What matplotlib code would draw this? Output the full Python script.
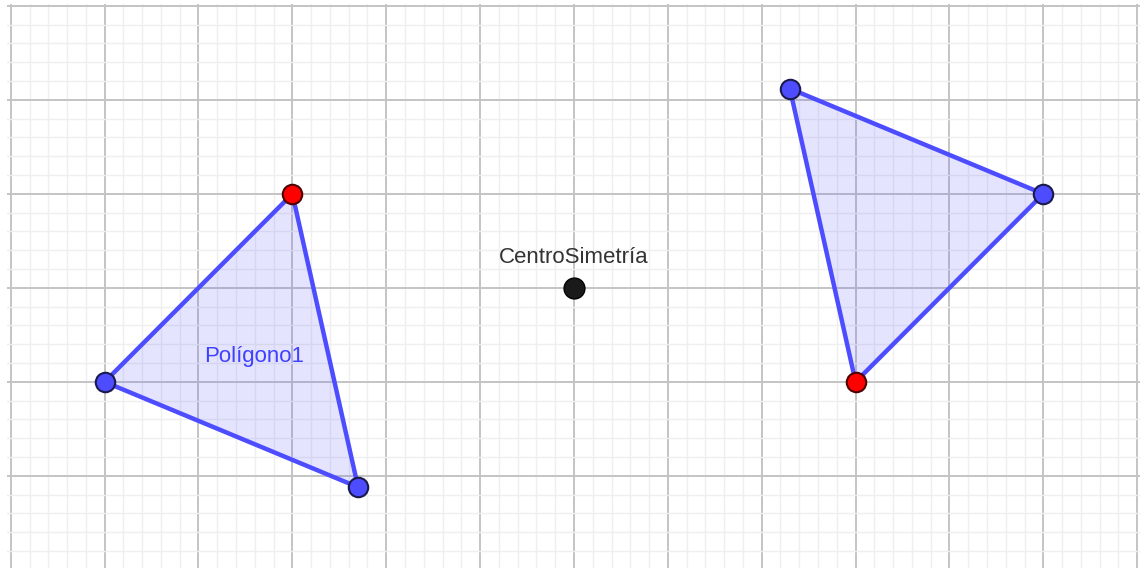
import numpy as np
import matplotlib.pyplot as plt
from matplotlib.patches import Polygon
from matplotlib.ticker import MultipleLocator

# original triangle (red vertex first) and its point reflection
tri1_x = [-3.0, -5.0, -2.3]
tri1_y = [1.0, -1.0, -2.12]
tri2_x = [3.0, 5.0, 2.3]
tri2_y = [-1.0, 1.0, 2.12]
centro = (0.0, 0.0)
poly_label = 'Polígono1'
centro_label = 'CentroSimetría'

BLUE = '#4d4dff'
plt.rcParams['font.family'] = ['Liberation Sans', 'DejaVu Sans']

fig = plt.figure(figsize=(11.4, 5.68), dpi=100)
ax = fig.add_axes([7 / 1140, 0, 1 - 7 / 1140, 1 - 4 / 568])
ax.set_xlim(-6.04, 6.03)
ax.set_ylim(-2.98, 3.02)

# cuadricula
ax.xaxis.set_major_locator(MultipleLocator(1))
ax.yaxis.set_major_locator(MultipleLocator(1))
ax.xaxis.set_minor_locator(MultipleLocator(0.2))
ax.yaxis.set_minor_locator(MultipleLocator(0.2))
ax.grid(which='minor', color='#efefef', lw=1.0)
ax.grid(which='major', color='#c4c4c4', lw=1.4)
ax.set_axisbelow(True)
ax.tick_params(which='both', length=0, labelbottom=False, labelleft=False)
for s in ax.spines.values():
    s.set_visible(False)

for xs, ys in [(tri1_x, tri1_y), (tri2_x, tri2_y)]:
    pts = np.column_stack([xs, ys])
    ax.add_patch(Polygon(pts, closed=True, facecolor=BLUE, alpha=0.15,
                         edgecolor='none', zorder=2))
    ax.add_patch(Polygon(pts, closed=True, facecolor='none',
                         edgecolor=BLUE, lw=3.2, zorder=3))
    ax.plot(xs[1:], ys[1:], 'o', ms=14, mfc=BLUE, mec='#1a1a4d', mew=1.5, zorder=4)
    ax.plot(xs[0], ys[0], 'o', ms=14, mfc='#ff0000', mec='#4d0000', mew=1.5, zorder=4)

ax.plot(*centro, 'o', ms=15, mfc='#1a1a1a', mec='#000000', mew=1, zorder=4)

ax.text(-3.94, -0.79, poly_label, color='#4040ff', fontsize=16, va='baseline')
ax.text(0.0, 0.265, centro_label, color='#333333', fontsize=16,
        ha='center', va='baseline')

fig.savefig('out.png', dpi=100)
